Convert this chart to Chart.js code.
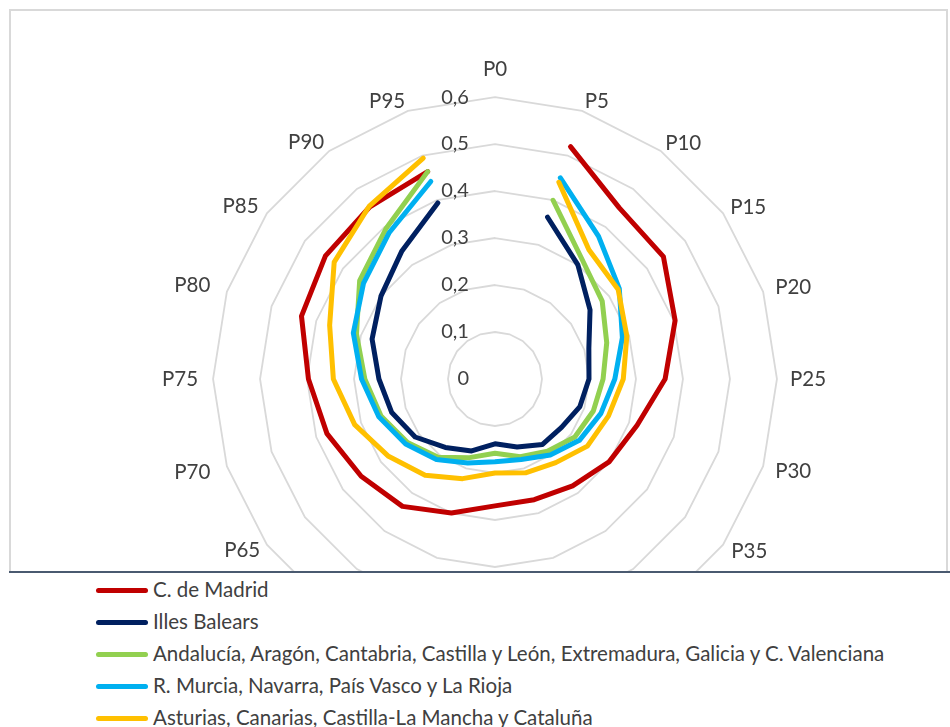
<!DOCTYPE html>
<html lang="es">
<head>
    <meta charset="UTF-8">
    <title>Percentiles por comunidad</title>
    <script src="https://cdn.jsdelivr.net/npm/chart.js"></script>
    <style>
        body { margin: 0; background: #fff; width: 950px; height: 727px; position: relative; overflow: hidden; font-family: 'Lato', sans-serif; }
        .frame { position: absolute; left: 9px; top: 9px; width: 939px; height: 563px; box-sizing: border-box;
                 border: 2px solid #d9d9d9; border-bottom: none; overflow: hidden; }
        .holder { position: absolute; left: 34px; top: 27px; width: 900px; height: 682px; }
        .rule { position: absolute; left: 9px; top: 571px; width: 941px; height: 2px; background: #4a5a70; }
        .legend { position: absolute; left: 96px; top: 573px; color: #404040; font-size: 20.5px; }
        .legend div { height: 32px; line-height: 32px; white-space: nowrap; }
        .legend span.mark { display: inline-block; width: 52px; height: 5px; border-radius: 3px; vertical-align: middle; margin-right: 5px; position: relative; top: -1px; }
    </style>
</head>
<body>
    <div class="frame">
        <div class="holder"><canvas id="radar" width="900" height="682"></canvas></div>
    </div>
    <div class="rule"></div>
    <div class="legend" id="legend"></div>

    <script>
        // categorías (percentiles)
        const percentiles = ['P0', 'P5', 'P10', 'P15', 'P20', 'P25', 'P30', 'P35', 'P40', 'P45',
                             'P50', 'P55', 'P60', 'P65', 'P70', 'P75', 'P80', 'P85', 'P90', 'P95'];
        const tickLabels = ['0', '0,1', '0,2', '0,3', '0,4', '0,5', '0,6'];

        const seriesNames = [
            'C. de Madrid',
            'Illes Balears',
            'Andalucía, Aragón, Cantabria, Castilla y León, Extremadura, Galicia y C. Valenciana',
            'R. Murcia, Navarra, País Vasco y La Rioja',
            'Asturias, Canarias, Castilla-La Mancha y Cataluña'
        ];

        const madrid    = [null, 0.52, 0.45, 0.443, 0.403, 0.362, 0.318, 0.30, 0.281, 0.27, 0.27, 0.30, 0.335, 0.352, 0.376, 0.397, 0.433, 0.446, 0.453, 0.464];
        const baleares  = [null, 0.362, 0.30, 0.25, 0.21, 0.20, 0.19, 0.175, 0.172, 0.152, 0.138, 0.161, 0.18, 0.21, 0.231, 0.247, 0.275, 0.30, 0.337, 0.394];
        const grupoVerde    = [null, 0.40, 0.315, 0.282, 0.25, 0.23, 0.22, 0.21, 0.19, 0.174, 0.158, 0.176, 0.206, 0.23, 0.255, 0.277, 0.31, 0.356, 0.395, 0.464];
        const grupoAzul     = [null, 0.45, 0.375, 0.327, 0.285, 0.255, 0.237, 0.222, 0.20, 0.18, 0.176, 0.188, 0.212, 0.235, 0.26, 0.284, 0.317, 0.346, 0.384, 0.442];
        const grupoAmarillo = [null, 0.44, 0.34, 0.324, 0.295, 0.273, 0.254, 0.243, 0.22, 0.21, 0.20, 0.223, 0.253, 0.28, 0.314, 0.344, 0.37, 0.423, 0.455, 0.494];

        const series = [madrid, baleares, grupoVerde, grupoAzul, grupoAmarillo];
        const colors = ['#c00000', '#002060', '#92d050', '#00b0f0', '#ffc000'];

        // distancia etiqueta-anillo (Chart.js añade 12px extra) para acercarse a la colocación de Excel
        const labelPad = [15, -3.5, -4.5, -3.3, 0.6, 1, 0.6, -2, -4.5, -3.5,
                          15, -3.5, -4.5, -3.8, 5.3, 3, 5.3, -1.7, -3.3, -3.3];

        Chart.defaults.font.family = 'Lato';

        // etiquetas del eje a la izquierda del eje vertical, y mostrar también el 0
        const shiftTicks = {
            id: 'shiftTicks',
            beforeDraw(chart) {
                const s = chart.scales.r;
                if (s._shifted) return;
                const orig = s.drawLabels.bind(s);
                s.drawLabels = function () {
                    const m = this.min;
                    this.ctx.save();
                    this.ctx.translate(-40, 0);
                    this.min = -1e-9;
                    orig();
                    this.min = m;
                    this.ctx.restore();
                };
                s._shifted = true;
            }
        };

        new Chart(document.getElementById('radar'), {
            type: 'radar',
            data: {
                labels: percentiles,
                datasets: series.map((d, i) => ({
                    label: seriesNames[i],
                    data: d,
                    borderColor: colors[i],
                    backgroundColor: colors[i],
                    borderWidth: 5,
                    fill: false,
                    pointRadius: 0,
                    pointHoverRadius: 0,
                    borderJoinStyle: 'round',
                    borderCapStyle: 'round',
                    spanGaps: false,
                    order: series.length - i
                }))
            },
            options: {
                responsive: false,
                animation: false,
                layout: { padding: { top: 30, bottom: 30 } },
                plugins: {
                    legend: { display: false },
                    tooltip: { enabled: false }
                },
                scales: {
                    r: {
                        min: 0,
                        max: 0.6,
                        startAngle: 0,
                        angleLines: { display: false },
                        grid: { color: '#d9d9d9', lineWidth: 1.8 },
                        ticks: {
                            stepSize: 0.1,
                            showLabelBackdrop: false,
                            color: '#404040',
                            font: { size: 20 },
                            // el 0 va alineado a la derecha como los demás
                            callback: (v, i) => (i === 0 ? '\u2007 ' : '') + tickLabels[i]
                        },
                        pointLabels: {
                            color: '#404040',
                            font: { size: 20.5, lineHeight: 0.1 },
                            padding: ctx => labelPad[ctx.index]
                        }
                    }
                }
            },
            plugins: [shiftTicks]
        });

        // leyenda
        const legend = document.getElementById('legend');
        seriesNames.forEach((name, i) => {
            const row = document.createElement('div');
            const mark = document.createElement('span');
            mark.className = 'mark';
            mark.style.background = colors[i];
            row.appendChild(mark);
            row.appendChild(document.createTextNode(name));
            legend.appendChild(row);
        });
    </script>
</body>
</html>
